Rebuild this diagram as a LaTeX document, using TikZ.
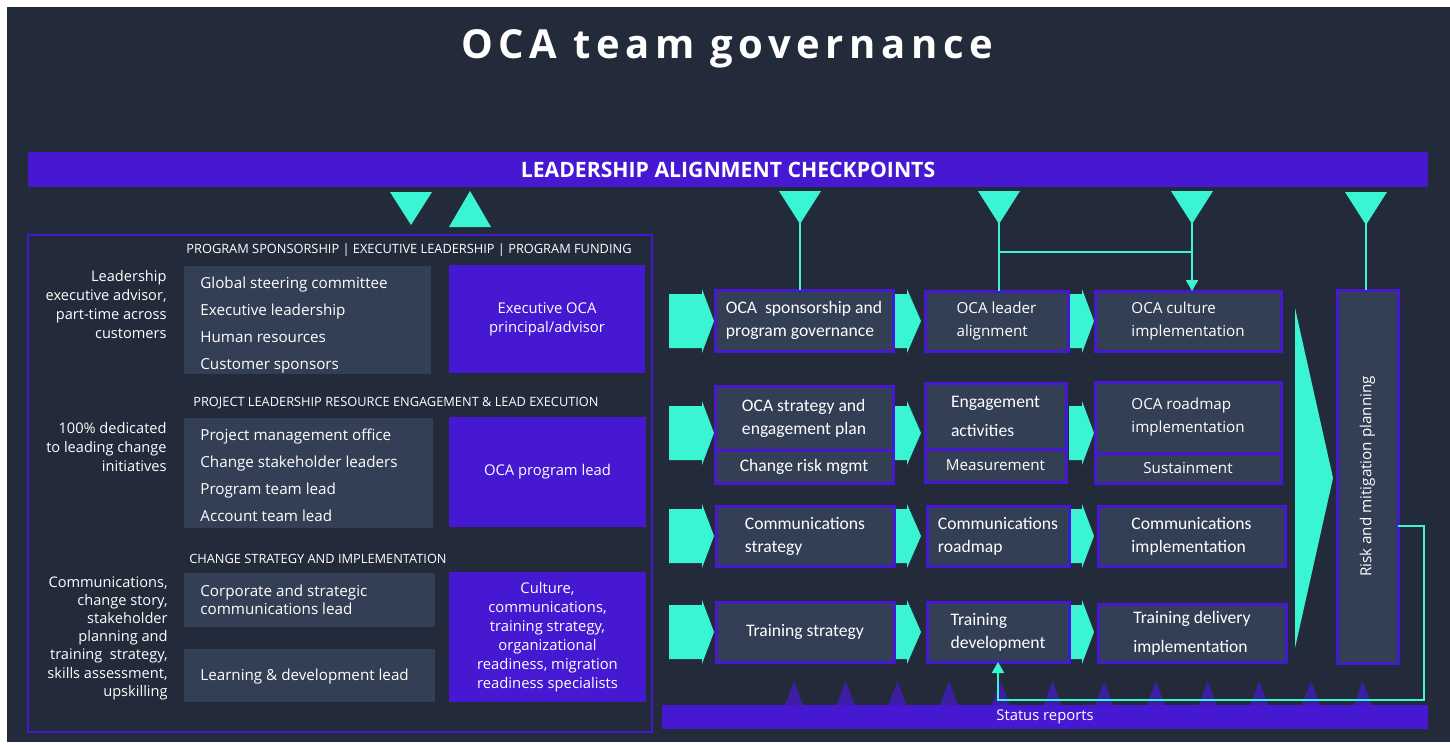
\documentclass[tikz,border=0pt]{standalone}
\usepackage{fontspec}
\setmainfont{Open Sans}
\newfontfamily\calfont{Carlito}
\newfontfamily\titlefont[LetterSpace=14]{Open Sans}
\usepackage{tikz}
\usetikzlibrary{arrows.meta, calc, positioning}
\definecolor{OCAbg}{RGB}{35,43,58}
\definecolor{OCAslate}{RGB}{50,63,85}
\definecolor{OCApurple}{RGB}{70,24,210}
\definecolor{OCAteal}{RGB}{58,245,212}
\providecommand{\Chevron}[4]{%
  % body from #1 to #2, tip at #3, centred on #4
  \fill[OCAteal] (#1,#4-27) -- (#2,#4-27) -- (#2,#4-32) -- (#3,#4)
    -- (#2,#4+32) -- (#2,#4+27) -- (#1,#4+27) -- cycle;
}
\providecommand{\DownTri}[2]{%
  \fill[OCAteal] (#1-21,#2) -- (#1+21,#2) -- (#1,#2+33) -- cycle;
}
% a box from (#3,#4) to (#5,#6), named #2
\providecommand{\Cell}[7][stepbox]{%
  \node[#1, minimum width={(#5-#3)*0.5pt}, minimum height={(#6-#4)*0.5pt}]
    (#2) at ({(#3+#5)/2},{(#4+#6)/2}) {#7};
}
\begin{document}
\begin{tikzpicture}[x=0.5pt, y=-0.5pt,
  box/.style={inner sep=0pt, outer sep=0pt, text=white, align=center, font=\fontsize{7.4}{9.5}\selectfont},
  slate/.style={box, fill=OCAslate},
  violet/.style={box, fill=OCApurple},
  stepbox/.style={box, fill=OCAslate, draw=OCApurple, line width=1.5pt, align=left,
    font=\calfont\fontsize{8.8}{11.5}\selectfont},
  openbox/.style={stepbox, font=\fontsize{7.6}{11.5}\selectfont},
  head/.style={text=white, inner sep=0pt, font=\fontsize{6.4}{7}\selectfont},
  note/.style={text=white, inner sep=0pt, align=right, anchor=east, font=\fontsize{7.3}{9.5}\selectfont},
  item/.style={text=white, inner sep=0pt, anchor=west, font=\fontsize{7.6}{9}\selectfont},
  entry/.style={item, text height=5.6pt, text depth=1.6pt},
  link/.style={draw=OCAteal, line width=1pt},
  tick/.style={fill=OCApurple!70!OCAbg},
]

	\fill[white] (0,0) rectangle (1450,744);
	\fill[OCAbg] (7,7) rectangle (1450,742);

	\node[text=white, font=\titlefont\bfseries\fontsize{20}{22}\selectfont] (title) at (727,49) {OCA team governance};

	\Cell[violet, font=\bfseries\fontsize{10.6}{12}\selectfont]{align}{28}{152}{1428}{187}{LEADERSHIP ALIGNMENT CHECKPOINTS}

	% checkpoints
	\DownTri{411}{192}
	\fill[OCAteal] (449,227) -- (491,227) -- (470,191) -- cycle;
	\DownTri{800}{191}
	\DownTri{999}{191}
	\DownTri{1192}{191}
	\DownTri{1366}{192}
	\coordinate (tipA) at (800,223);
	\coordinate (tipB) at (999,223);
	\coordinate (tipC) at (1192,223);
	\coordinate (tipD) at (1366,224);

	% left panel
	\draw[OCApurple, line width=0.75pt] (28,235) rectangle (652,732);

	\node[head] (hd1) at (409,250) {PROGRAM SPONSORSHIP | EXECUTIVE LEADERSHIP | PROGRAM FUNDING};
	\node[note] (nt1) at (167,305) {Leadership\\executive advisor,\\part-time across\\customers};
	\Cell[slate]{lst1}{184}{266}{431}{374}{}
	\foreach \t [count=\i] in {Global steering committee, Executive leadership, Human resources, Customer sponsors}
		\node[entry] (a\i) at (200,284+27*\i-27) {\t};
	\Cell[violet]{exec}{449}{265}{645}{373}{Executive OCA\\principal/advisor}

	\node[head] (hd2) at (396,403) {PROJECT LEADERSHIP RESOURCE ENGAGEMENT \& LEAD EXECUTION};
	\node[note] (nt2) at (167,447) {100\% dedicated\\to leading change\\initiatives};
	\Cell[slate]{lst2}{184}{418}{433}{528}{}
	\foreach \t [count=\i] in {Project management office, Change stakeholder leaders, Program team lead, Account team lead}
		\node[entry] (b\i) at (200,436+27.3*\i-27.3) {\t};
	\Cell[violet]{lead}{449}{417}{646}{527}{OCA program lead}

	\node[head] (hd3) at (318,559) {CHANGE STRATEGY AND IMPLEMENTATION};
	\node[note, font=\fontsize{7.3}{9.1}\selectfont] (nt3) at (168,638) {Communications,\\change story,\\stakeholder\\planning and\\training\ \ strategy,\\skills assessment,\\upskilling};
	\Cell[slate]{corp}{184}{573}{435}{627}{}
	\node[item, align=left] (corpt) at (200,600) {Corporate and strategic\\communications lead};
	\Cell[slate]{learn}{184}{649}{435}{702}{}
	\node[entry] (learnt) at (200,676) {Learning \& development lead};
	\Cell[violet]{spec}{449}{572}{646}{702}{Culture,\\communications,\\training strategy,\\organizational\\readiness, migration\\readiness specialists}

	% flow arrows
	\foreach \y in {321,433,536,632} {
		\Chevron{669}{702}{714}{\y}
		\Chevron{893}{907}{921}{\y}
		\Chevron{1069}{1082}{1094}{\y}
	}
	\fill[OCAteal] (1295,308) -- (1333,478) -- (1295,648) -- cycle;

	% status ticks
	\foreach \i in {0,...,11}
		\fill[tick] ({794+51.7*\i},681) -- ++(9,24) -- ++(-18,0) -- cycle;

	% steps
	\Cell{spons}{715}{290}{893}{351}{OCA\ \ sponsorship and\\program governance}
	\Cell[openbox]{ldr}{925}{291}{1068}{351}{OCA leader\\alignment}
	\Cell[openbox]{cult}{1095}{291}{1281}{351}{OCA culture\\implementation}

	\Cell{strat}{715}{386}{893}{450}{OCA strategy and\\engagement plan}
	\Cell[stepbox, align=center]{risk1}{715}{450}{893}{483}{Change risk mgmt}
	\Cell{engage}{925}{383}{1066}{449}{Engagement\\[3pt]activities}
	\Cell[openbox, align=center]{meas}{925}{449}{1066}{482}{Measurement}
	\Cell[openbox]{road}{1095}{382}{1281}{453}{OCA roadmap\\implementation}
	\Cell[openbox, align=center]{sust}{1095}{453}{1281}{483}{Sustainment}

	\Cell{cs}{716}{506}{894}{566}{Communications\\strategy}
	\Cell{cr}{927}{506}{1069}{566}{Communications\\roadmap}
	\Cell{ci}{1098}{506}{1285}{566}{Communications\\implementation}

	\Cell{ts}{716}{602}{894}{662}{Training strategy}
	\Cell{td}{927}{602}{1069}{662}{Training\\development}
	\Cell{tdi}{1098}{604}{1286}{662}{Training delivery\\[3pt]implementation}

	\Cell{risk}{1337}{290}{1398}{663}{}
	\node[text=white, rotate=90, inner sep=0pt, font=\fontsize{7.6}{9}\selectfont] (riskt) at (risk) {Risk and mitigation planning};

	\Cell[violet]{status}{662}{705}{1428}{729}{Status reports}

	% connectors
	\draw[link] (tipA) -- (tipA |- spons.north);
	\draw[link] (tipB) -- (tipB |- ldr.north);
	\coordinate (brk) at (999,252);
	\draw[link] (brk) -| (tipC);
	\draw[link, -{Triangle[width=6pt, length=5.5pt]}] (tipC) -- (tipC |- cult.north);
	\draw[link] (tipD) -- (tipD |- risk.north);
	\coordinate (fb) at (1398,526);
	\coordinate (fbc) at (1424,700);
	\draw[link, -{Triangle[width=6pt, length=5.5pt]}] (fb) -| (fbc) -| (td.south);

\end{tikzpicture}
\end{document}
